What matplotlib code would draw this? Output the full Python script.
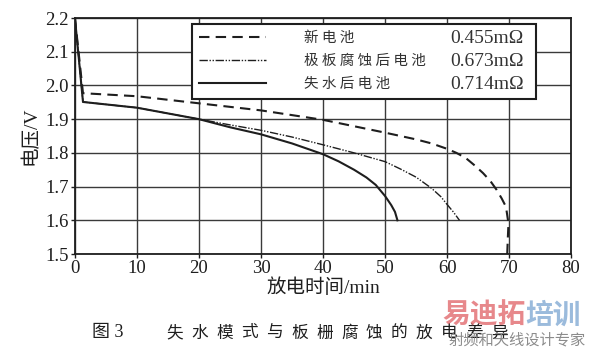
import numpy as np
import matplotlib
matplotlib.use("Agg")
import matplotlib.pyplot as plt
from matplotlib.lines import Line2D

# 数据
t_new = [0, 1.3, 10, 20, 30, 40, 50, 55, 57.5, 60, 61.5, 63, 64.5, 65.8, 67, 68, 68.8, 69.5, 69.9, 69.8, 69.7]
v_new = [2.2, 1.977, 1.968, 1.947, 1.926, 1.898, 1.86, 1.84, 1.828, 1.812, 1.80, 1.785, 1.762, 1.74, 1.716, 1.69, 1.665, 1.64, 1.59, 1.55, 1.5]

t_corr = [0, 1.3, 10, 20, 25, 30, 35, 40, 45, 50, 52.5, 55, 57.5, 59, 60, 61, 62]
v_corr = [2.2, 1.951, 1.934, 1.90, 1.883, 1.867, 1.847, 1.824, 1.80, 1.774, 1.752, 1.728, 1.695, 1.67, 1.647, 1.625, 1.6]

t_water = [0, 1.3, 10, 20, 25, 30, 35, 40, 42.5, 45, 47, 48.5, 50, 51, 51.6, 52]
v_water = [2.2, 1.951, 1.934, 1.90, 1.876, 1.855, 1.828, 1.796, 1.775, 1.75, 1.727, 1.705, 1.672, 1.645, 1.625, 1.6]

names = ["新电池", "极板腐蚀后电池", "失水后电池"]
resist = ["0.455mΩ", "0.673mΩ", "0.714mΩ"]

xticks = [0, 10, 20, 30, 40, 50, 60, 70, 80]
yticks = [1.5, 1.6, 1.7, 1.8, 1.9, 2.0, 2.1, 2.2]

SERIF = ["Liberation Serif", "Noto Sans CJK SC"]
CJK = ["Noto Sans CJK SC", "DejaVu Sans"]
INK = "#1e1e1e"

fig = plt.figure(figsize=(5.9, 3.57), dpi=100)
ax = fig.add_axes([0.127, 0.2885, 0.841, 0.661])

styles = [
    dict(ls=(0, (5, 3)), lw=1.5),
    dict(ls=(0, (6, 1.2, 1, 1.2, 1, 1.2)), lw=1.0),
    dict(ls="-", lw=1.5),
]
series = [(t_new, v_new), (t_corr, v_corr), (t_water, v_water)]
for (t, v), st in zip(series, styles):
    ax.plot(t, v, color=INK, **st)

ax.set_xlim(0, 80)
ax.set_ylim(1.5, 2.2)
ax.set_xticks(xticks)
ax.set_yticks(yticks)
ax.set_xticklabels([str(x) for x in xticks], family=SERIF, fontsize=13.5)
ax.set_yticklabels([f"{y:.1f}" for y in yticks], family=SERIF, fontsize=13.5)
ax.tick_params(direction="out", length=3, width=1, pad=1.5, colors=INK)
ax.grid(True, color="#3a3a3a", lw=1.0)
for s in ax.spines.values():
    s.set_color(INK)
    s.set_linewidth(1.3)

ax.set_xlabel("放电时间/min", family=SERIF, fontsize=14, color=INK, labelpad=1)
ax.set_ylabel("电压/V", family=SERIF, fontsize=14, color=INK, labelpad=4)

handles = [Line2D([], [], color=INK, **st) for st in styles]
spaced = [" ".join(n) for n in names]
leg = ax.legend(handles, spaced, loc="upper left", mode="expand",
                bbox_to_anchor=(0.236, 0.661, 0.693, 0.314),
                prop={"family": CJK, "size": 10.5}, handlelength=4.6,
                handletextpad=2.6, labelspacing=0.62, borderpad=0.5,
                borderaxespad=0, fancybox=False, framealpha=1,
                edgecolor=INK)
leg.get_frame().set_linewidth(1.5)
for txt in leg.get_texts():
    txt.set_color("#333333")

fig.canvas.draw()
inv = fig.transFigure.inverted()
H = 357
for txt, r in zip(leg.get_texts(), resist):
    bb = txt.get_window_extent()
    yc = (bb.y0 + bb.y1) / 2
    fx, fy = inv.transform((450, yc))
    fig.text(fx, fy, r, family=SERIF, fontsize=14, color="#333333",
             ha="left", va="center", zorder=10)

# 图题
cap_y = 1 - 333 / H
fig.text(92 / 590, cap_y, "图 3", family=SERIF, fontsize=13,
         color=INK, ha="left", va="center")
caption = "失水模式与板栅腐蚀的放电差异"
for i, ch in enumerate(caption):
    fig.text((166 + i * 25) / 590, cap_y, ch, family=CJK,
             fontsize=12, color=INK, ha="left", va="center")

# 水印
wm1 = fig.text(442 / 590, 1 - 316 / H, "易迪拓", family=CJK, fontsize=20,
               weight="bold", color="#e37377", alpha=0.85, ha="left", va="center")
fig.canvas.draw()
x_end = inv.transform((wm1.get_window_extent().x1, 0))[0]
fig.text(x_end, 1 - 316 / H, "培训", family=CJK, fontsize=20,
         weight="bold", color="#8aafd6", alpha=0.85, ha="left", va="center")
fig.text(586 / 590, 1 - 340 / H, "射频和天线设计专家", family=CJK,
         fontsize=11, color="#8c8c8c", ha="right", va="center")

fig.savefig("out.png", dpi=100, facecolor="white")
